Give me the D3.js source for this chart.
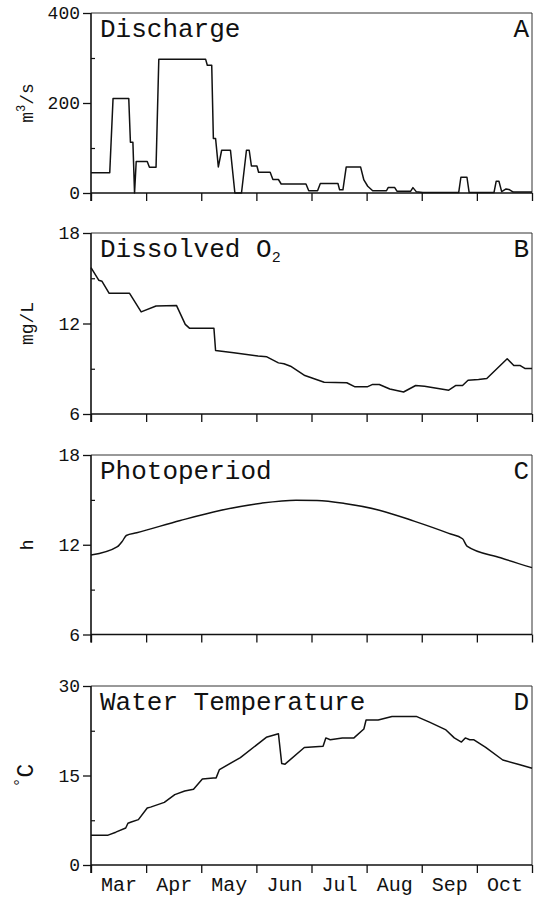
<!DOCTYPE html>
<html>
<head>
<meta charset="utf-8">
<script src="https://cdn.jsdelivr.net/npm/d3@7"></script>
<style>
  html, body { margin: 0; padding: 0; background: #fff; }
  svg { display: block; }
  text { font-family: "Courier New", Courier, "Nimbus Mono PS", FreeMono, "Liberation Mono", monospace; fill: #111; }
</style>
</head>
<body>
<div id="chart"></div>
<script>
// ---- DATA (t = months since 1 March) ----
const months = ["Mar", "Apr", "May", "Jun", "Jul", "Aug", "Sep", "Oct"];

const dischargeT = [0, 0.34, 0.40, 0.685, 0.715, 0.76, 0.79, 0.82, 1.02, 1.06, 1.18, 1.23, 2.08, 2.11, 2.19, 2.22, 2.26, 2.31, 2.37, 2.53, 2.61, 2.73, 2.82, 2.87, 2.91, 3.01, 3.04, 3.25, 3.30, 3.40, 3.45, 3.90, 3.95, 4.11, 4.16, 4.48, 4.51, 4.57, 4.63, 4.89, 4.95, 5.02, 5.11, 5.36, 5.39, 5.51, 5.55, 5.80, 5.84, 5.90, 6.02, 6.67, 6.71, 6.82, 6.86, 7.31, 7.35, 7.40, 7.45, 7.53, 7.58, 7.66, 8];
const dischargeV = [45, 45, 210, 210, 113, 113, 0, 70, 70, 57, 57, 297, 297, 284, 284, 121, 121, 58, 95, 95, 0, 0, 95, 95, 60, 60, 46, 46, 30, 30, 20, 20, 5, 5, 21, 21, 7, 7, 58, 58, 29, 15, 5, 5, 12, 12, 4, 4, 12, 3, 1, 1, 35, 35, 1, 1, 26, 26, 3, 9, 8, 2, 2];

const oxygenT = [0, 0.14, 0.20, 0.33, 0.70, 0.91, 1.18, 1.55, 1.71, 1.79, 2.23, 2.26, 2.59, 3.03, 3.19, 3.40, 3.50, 3.62, 3.88, 4.23, 4.64, 4.79, 5.01, 5.11, 5.23, 5.42, 5.67, 5.89, 6.05, 6.49, 6.62, 6.74, 6.84, 7.03, 7.18, 7.55, 7.67, 7.78, 7.87, 8];
const oxygenV = [15.7, 14.87, 14.8, 14.0, 14.0, 12.77, 13.16, 13.2, 11.94, 11.68, 11.68, 10.21, 10.06, 9.84, 9.79, 9.39, 9.33, 9.17, 8.55, 8.11, 8.07, 7.80, 7.80, 7.96, 7.96, 7.66, 7.46, 7.89, 7.84, 7.58, 7.89, 7.89, 8.24, 8.28, 8.35, 9.66, 9.22, 9.22, 9.02, 9.02];

const photoT = [0, 0.48, 0.57, 0.64, 0.83, 1.62, 2.34, 3.09, 3.72, 4.10, 4.60, 5.23, 5.86, 6.49, 6.74, 6.82, 7.43, 8];
const photoV = [11.31, 11.87, 12.24, 12.62, 12.8, 13.62, 14.29, 14.78, 14.98, 14.96, 14.76, 14.31, 13.58, 12.76, 12.4, 11.91, 11.13, 10.47];

const tempT = [0, 0.31, 0.45, 0.63, 0.67, 0.73, 0.86, 1.02, 1.08, 1.33, 1.52, 1.70, 1.86, 2.02, 2.22, 2.27, 2.33, 2.71, 3.18, 3.40, 3.46, 3.52, 3.87, 4.21, 4.26, 4.34, 4.56, 4.77, 4.95, 4.99, 5.21, 5.46, 5.90, 6.15, 6.43, 6.59, 6.72, 6.79, 6.87, 6.94, 7.16, 7.47, 7.78, 8];
const tempV = [5.0, 5.0, 5.5, 6.2, 7.0, 7.2, 7.6, 9.55, 9.7, 10.5, 11.8, 12.4, 12.7, 14.4, 14.6, 14.6, 16.0, 18.0, 21.4, 22.0, 17.0, 16.9, 19.7, 19.9, 21.3, 21.0, 21.3, 21.3, 22.8, 24.3, 24.3, 24.9, 24.9, 23.9, 22.7, 21.3, 20.6, 21.3, 21.0, 21.0, 19.7, 17.6, 16.8, 16.2];

const panelTitles = ["Discharge", "Dissolved O", "Photoperiod", "Water Temperature"];
const panelLetters = ["A", "B", "C", "D"];
const yDomains = [[0, 400], [6, 18], [6, 18], [0, 30]];
const yMajorTicks = [[0, 200, 400], [6, 12, 18], [6, 12, 18], [0, 15, 30]];
const yMinorTicks = [[100, 300], [9, 15], [9, 15], [7.5, 22.5]];

// ---- LAYOUT ----
const W = 537, H = 897;
const left = 91, right = 532;
const tops = [13, 233, 455, 686];
const bottoms = [193, 414, 634.5, 865];
const FONT = "'Courier New', Courier, 'Nimbus Mono PS', FreeMono, 'Liberation Mono', monospace";

const svg = d3.select("#chart").append("svg")
  .attr("width", W).attr("height", H)
  .style("background", "#fff");

const x = d3.scaleLinear().domain([0, 8]).range([left, right]);

const series = [
  { t: dischargeT, v: dischargeV, curve: d3.curveLinear },
  { t: oxygenT, v: oxygenV, curve: d3.curveLinear },
  { t: photoT, v: photoV, curve: d3.curveMonotoneX },
  { t: tempT, v: tempV, curve: d3.curveLinear }
];

series.forEach((s, i) => {
  const g = svg.append("g");
  const y = d3.scaleLinear().domain(yDomains[i]).range([bottoms[i], tops[i]]);

  // frame (top/right lighter)
  g.append("line").attr("x1", left).attr("x2", right).attr("y1", tops[i]).attr("y2", tops[i])
    .attr("stroke", "#333").attr("stroke-width", 1);
  g.append("line").attr("x1", right).attr("x2", right).attr("y1", tops[i]).attr("y2", bottoms[i])
    .attr("stroke", "#333").attr("stroke-width", 1);

  // x axis
  const xa = g.append("g").attr("transform", `translate(0,${bottoms[i]})`)
    .call(d3.axisBottom(x).tickValues(d3.range(0, 9)).tickSize(8).tickFormat(""));
  xa.select(".domain").attr("stroke", "#111").attr("stroke-width", 1.6).attr("d", `M${left},0H${right}`);
  xa.selectAll(".tick line").attr("stroke", "#111").attr("stroke-width", 1.3);

  // y axis major
  const ya = g.append("g").attr("transform", `translate(${left},0)`)
    .call(d3.axisLeft(y).tickValues(yMajorTicks[i]).tickSize(8).tickPadding(3).tickFormat(d3.format("d")));
  ya.select(".domain").attr("stroke", "#111").attr("stroke-width", 1.6).attr("d", `M0,${tops[i]}V${bottoms[i] + 8}`);
  ya.selectAll(".tick line").attr("stroke", "#111").attr("stroke-width", 1.3);
  ya.selectAll(".tick text").attr("font-size", 18).attr("fill", "#111").attr("font-family", FONT);

  // y axis minor (inner)
  const ym = g.append("g").attr("transform", `translate(${left},0)`)
    .call(d3.axisLeft(y).tickValues(yMinorTicks[i]).tickSize(-4).tickFormat(""));
  ym.select(".domain").remove();
  ym.selectAll(".tick line").attr("stroke", "#111").attr("stroke-width", 1.2);

  // data line
  const pts = s.t.map((t, k) => [t, s.v[k]]);
  g.append("path").datum(pts)
    .attr("fill", "none").attr("stroke", "#111").attr("stroke-width", 1.5)
    .attr("stroke-linejoin", "round")
    .attr("d", d3.line().x(d => x(d[0])).y(d => y(d[1])).curve(s.curve));

  // title
  const tt = g.append("text").attr("x", left + 9).attr("y", tops[i] + 23.5)
    .attr("font-size", 26).text(panelTitles[i]);
  if (i === 1) {
    tt.append("tspan").attr("font-size", 15).attr("dy", 5).text("2");
  }
  g.append("text").attr("x", right - 3).attr("y", tops[i] + 23.5)
    .attr("text-anchor", "end").attr("font-size", 26).text(panelLetters[i]);

  // y-axis label
  const cy = (tops[i] + bottoms[i]) / 2;
  const yl = g.append("text").attr("transform", `translate(33,${cy}) rotate(-90)`)
    .attr("text-anchor", "middle").attr("font-size", 18);
  if (i === 0) {
    yl.append("tspan").text("m");
    yl.append("tspan").attr("font-size", 12).attr("dy", -8).text("3");
    yl.append("tspan").attr("dy", 8).text("/s");
  } else if (i === 1) {
    yl.text("mg/L");
  } else if (i === 2) {
    yl.text("h");
  } else {
    yl.attr("font-size", 23);
    yl.append("tspan").attr("font-size", 16).attr("dy", -8).text("°");
    yl.append("tspan").attr("dy", 8).text("C");
  }

  // month labels under last panel
  if (i === 3) {
    const ma = g.append("g").attr("transform", `translate(0,${bottoms[i]})`)
      .call(d3.axisBottom(x).tickValues(d3.range(0.5, 8, 1)).tickSize(0).tickPadding(12)
        .tickFormat((d, k) => months[k]));
    ma.select(".domain").remove();
    ma.selectAll(".tick text").attr("font-size", 20).attr("fill", "#111").attr("font-family", FONT);
  }
});
</script>
</body>
</html>
